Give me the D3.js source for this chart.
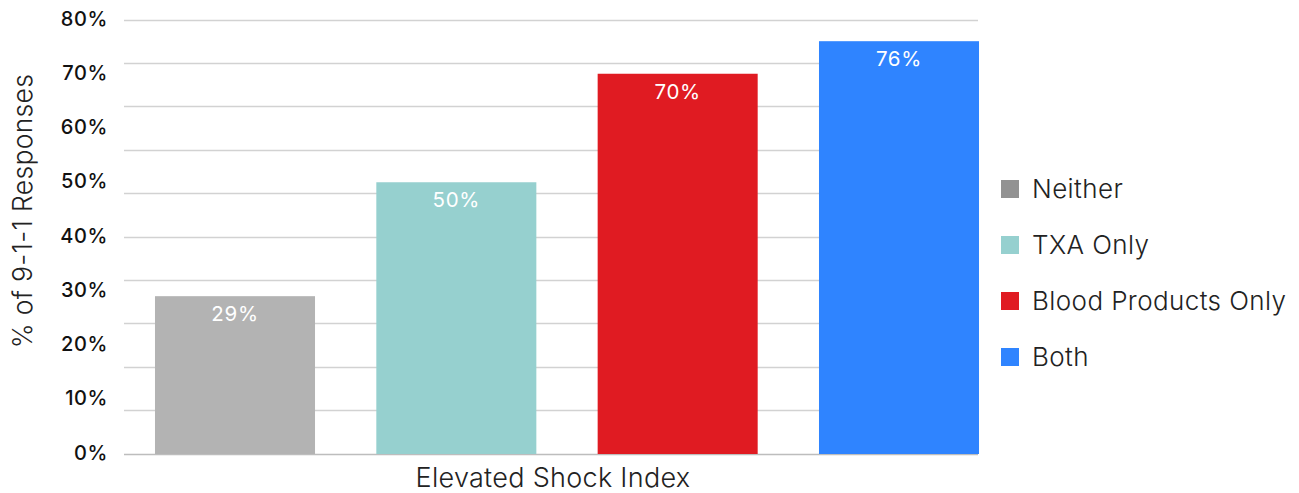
<!DOCTYPE html>
<html>
<head>
<meta charset="utf-8">
<script src="https://cdn.jsdelivr.net/npm/d3@7"></script>
<style>
  html, body { margin: 0; padding: 0; background: #ffffff; }
  svg { display: block; }
</style>
</head>
<body>
<svg id="chart" width="1299" height="493"></svg>
<script>
// Share of 9-1-1 responses with an elevated shock index, by treatment group
const categories = ["Neither", "TXA Only", "Blood Products Only", "Both"];
const values = [29, 50, 70, 76];
const barColors = ["#b3b3b3", "#96d0cf", "#e01b22", "#2f84ff"];
const legendColors = ["#929292", "#96d0cf", "#e01b22", "#2f84ff"];
const tickValues = [0, 10, 20, 30, 40, 50, 60, 70, 80];
const gridValues = [0, 8, 16, 24, 32, 40, 48, 56, 64, 72, 80];
const xTitle = "Elevated Shock Index";
const yTitle = "% of 9-1-1 Responses";

const svg = d3.select("#chart");
const font = "Inter, sans-serif";

const plotLeft = 124, gridRight = 978, plotTop = 19.5, plotBottom = 453.5;

const y = d3.scaleLinear().domain([0, 80]).range([plotBottom, plotTop]);
const x = d3.scaleBand()
  .domain(categories)
  .range([plotLeft, 1010])
  .paddingInner(0.277)
  .paddingOuter(0.14);

// horizontal gridlines
svg.append("g")
  .selectAll("line")
  .data(gridValues)
  .join("line")
  .attr("x1", plotLeft)
  .attr("x2", gridRight)
  .attr("y1", d => Math.round(y(d)) + 0.5)
  .attr("y2", d => Math.round(y(d)) + 0.5)
  .attr("stroke", d => d === 0 ? "#bdbdbd" : "#d2d2d2")
  .attr("stroke-width", 1.5);

// y-axis tick labels
const yAxis = d3.axisLeft(y)
  .tickValues(tickValues)
  .tickFormat(d => d + "%")
  .tickSize(0)
  .tickPadding(0);
const yg = svg.append("g")
  .attr("transform", "translate(108,-2)")
  .call(yAxis);
yg.select(".domain").remove();
yg.selectAll("text")
  .attr("font-family", font)
  .attr("font-size", 20)
  .attr("font-weight", 500)
  .attr("letter-spacing", 0.6)
  .attr("fill", "#111111")
  .attr("dy", "0.38em");

// bars
svg.append("g")
  .selectAll("rect")
  .data(categories)
  .join("rect")
  .attr("x", d => x(d))
  .attr("width", x.bandwidth())
  .attr("y", (d, i) => y(values[i]))
  .attr("height", (d, i) => y(0) - y(values[i]) + 0.5)
  .attr("fill", (d, i) => barColors[i]);

// value labels inside bars
svg.append("g")
  .selectAll("text")
  .data(categories)
  .join("text")
  .attr("x", d => x(d) + x.bandwidth() / 2)
  .attr("y", (d, i) => y(values[i]) + 25)
  .attr("text-anchor", "middle")
  .attr("font-family", font)
  .attr("font-size", 20.5)
  .attr("font-weight", 400)
  .attr("letter-spacing", 0.7)
  .attr("fill", "#ffffff")
  .text((d, i) => values[i] + "%");

// axis titles
svg.append("text")
  .attr("x", 553)
  .attr("y", 487)
  .attr("text-anchor", "middle")
  .attr("font-family", font)
  .attr("font-size", 27)
  .attr("font-weight", 300)
  .attr("letter-spacing", 0.3)
  .attr("fill", "#222222")
  .text(xTitle);

svg.append("text")
  .attr("transform", "translate(32,211) rotate(-90)")
  .attr("text-anchor", "middle")
  .attr("font-family", font)
  .attr("font-size", 26.5)
  .attr("font-weight", 300)
  .attr("letter-spacing", 0.3)
  .attr("fill", "#222222")
  .text(yTitle);

// legend
const legend = svg.append("g")
  .selectAll("g")
  .data(categories)
  .join("g")
  .attr("transform", (d, i) => `translate(1001,${189 + i * 56})`);
legend.append("rect")
  .attr("x", 0)
  .attr("y", -9)
  .attr("width", 18)
  .attr("height", 18)
  .attr("fill", (d, i) => legendColors[i]);
legend.append("text")
  .attr("x", 31)
  .attr("y", 0)
  .attr("dy", "0.36em")
  .attr("font-family", font)
  .attr("font-size", 26)
  .attr("font-weight", 300)
  .attr("letter-spacing", 0.4)
  .attr("fill", "#222222")
  .text(d => d);
</script>
</body>
</html>
